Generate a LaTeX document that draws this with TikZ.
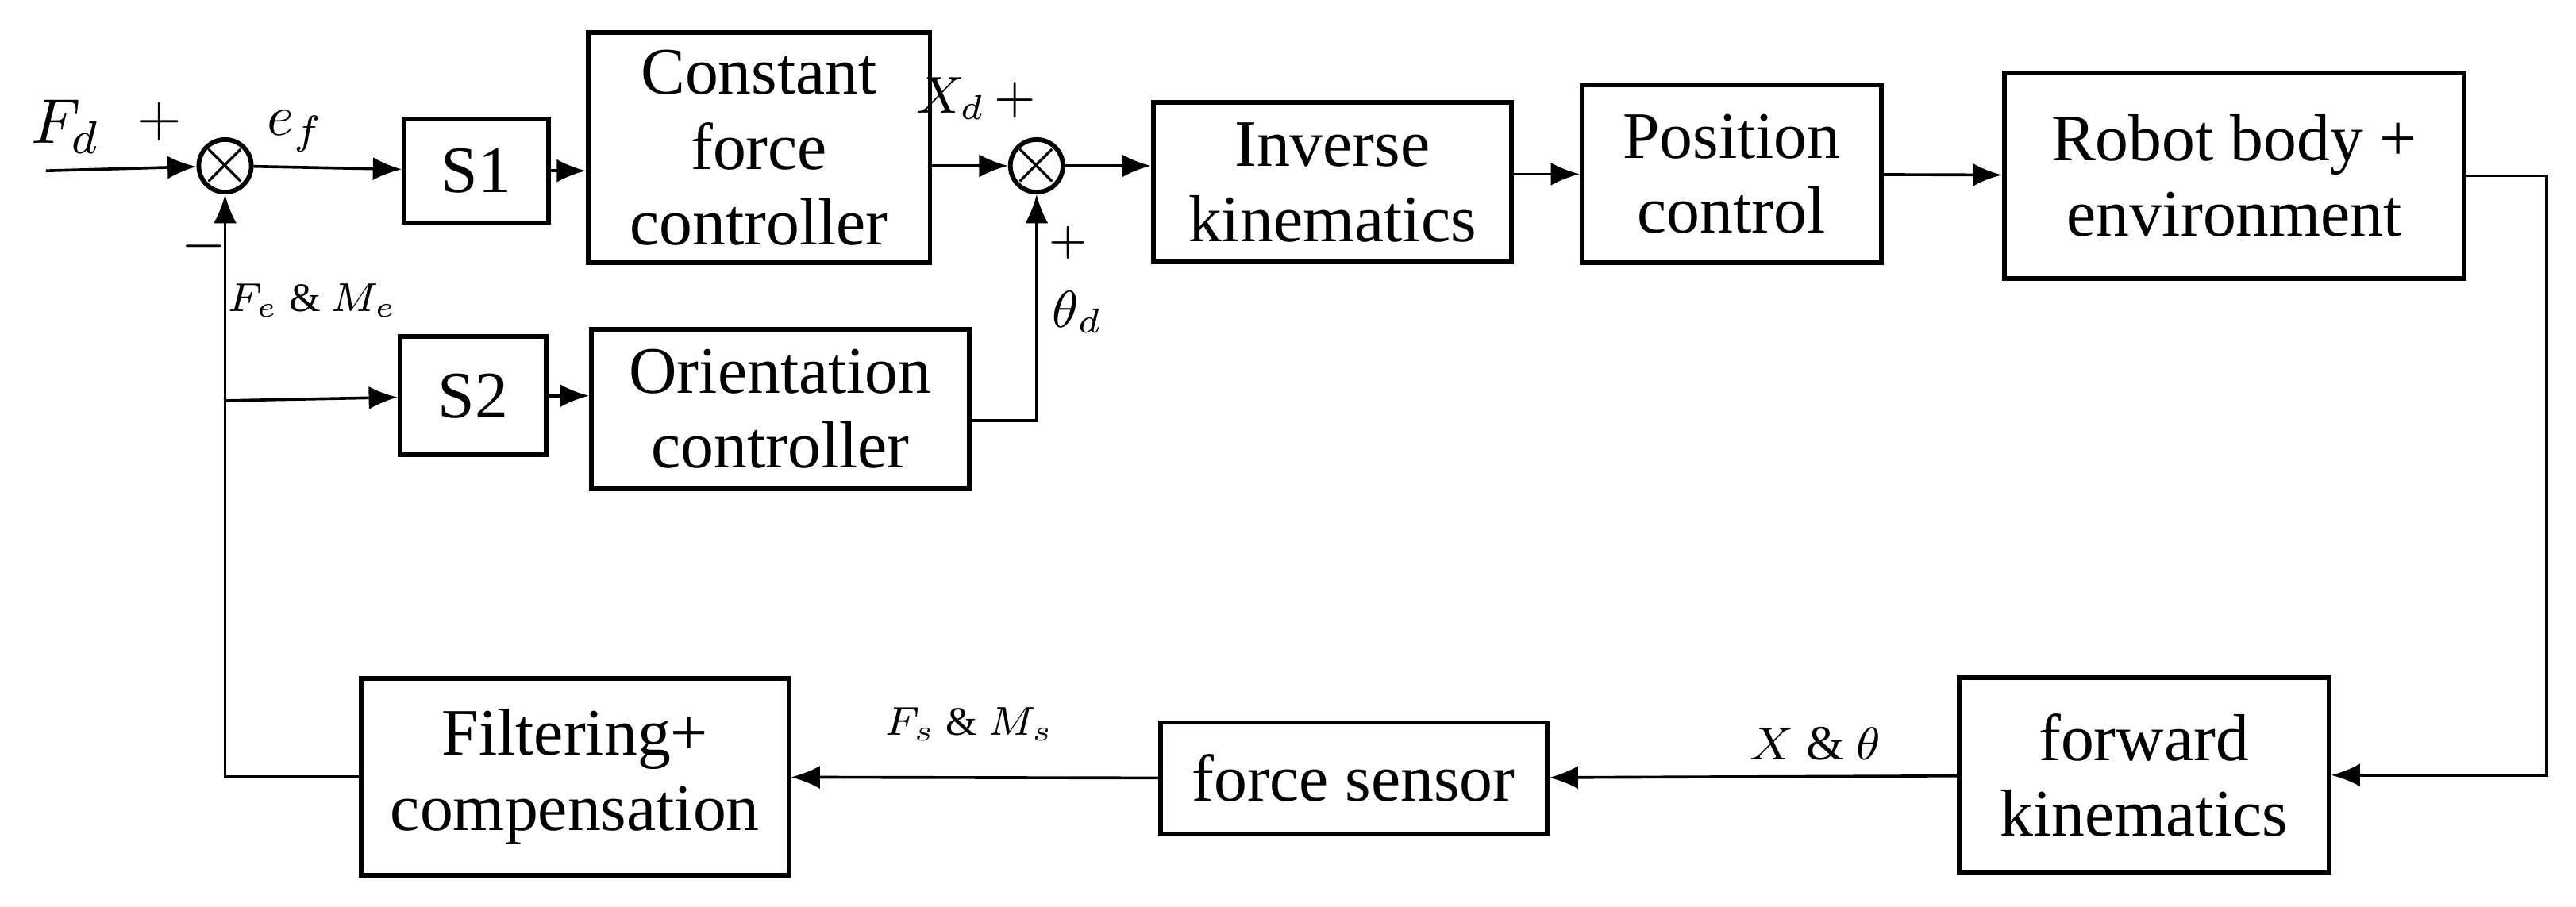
\documentclass[tikz,border=0pt]{standalone}
\usepackage{fontspec}
\setmainfont{Liberation Serif}
\usetikzlibrary{arrows.meta,positioning,calc}
\tikzset{
  block/.style={draw, line width=0.8pt, align=center, font=\fontsize{11.5}{13}\selectfont, inner sep=0pt},
  sumnode/.style={draw, circle, line width=0.8pt, minimum size=0.32cm, inner sep=0pt},
  sig/.style={font=\fontsize{7}{9}\selectfont},
  link/.style={line width=0.5pt, -{Latex[length=5pt,width=4pt]}}
}
\begin{document}
\begin{tikzpicture}[x=0.01cm,y=-0.01cm]
\useasboundingbox (0,0) rectangle (1568,552);
% Forward path
\coordinate (in) at (28,104);
\node[sumnode] (sum1) at (137,101) {};
\node at (sum1) {\fontsize{12}{12}\selectfont$\times$};
\node[block, minimum width=0.88cm, minimum height=0.63cm] (s1) at (290,104) {S1};
\node[block, minimum width=2.08cm, minimum height=1.4cm] (cfc) at (462,90) {Constant\\force\\controller};
\node[sumnode] (sum2) at (631,101) {};
\node at (sum2) {\fontsize{12}{12}\selectfont$\times$};
\node[block, minimum width=2.18cm, minimum height=0.97cm] (ik) at (811,111) {Inverse\\kinematics};
\node[block, minimum width=1.82cm, minimum height=1.08cm] (pc) at (1054,106) {Position\\control};
\node[block, minimum width=2.8cm, minimum height=1.25cm] (robot) at (1360,107) {Robot body +\\environment};

% Orientation branch
\node[block, minimum width=0.89cm, minimum height=0.72cm] (s2) at (288,241) {S2};
\node[block, minimum width=2.3cm, minimum height=0.97cm] (oc) at (475,249) {Orientation\\controller};

% Feedback path
\node[block, minimum width=2.25cm, minimum height=1.19cm] (fk) at (1305,472) {forward\\kinematics};
\node[block, minimum width=2.35cm, minimum height=0.68cm] (fs) at (824,474) {force sensor};
\node[block, minimum width=2.6cm, minimum height=1.2cm] (filt) at (350,473) {Filtering+\\compensation};
\coordinate (br) at (137,244);
\coordinate (rout) at (1550,107);

% Connections
\draw[link] (in) -- (sum1);
\draw[link] (sum1) -- (s1);
\draw[link] (s1) -- (s1 -| cfc.west);
\draw[link] (cfc.east |- sum2) -- (sum2);
\draw[link] (sum2) -- (sum2 -| ik.west);
\draw[link] (ik.east |- pc) -- (pc);
\draw[link] (pc) -- (robot);
\draw[link] (robot.east) -- (rout) |- (fk.east);
\draw[link] (fk) -- (fs);
\draw[link] (fs) -- (filt);
\draw[link] (filt.west) -| (sum1.south);
\draw[link] (br) -- (s2);
\draw[link] (s2) -- (s2 -| oc.west);
\draw[link] (oc.east |- 0,256) -| (sum2.south);

% Labels
\node[font=\fontsize{11}{12}\selectfont] (lfd) at (40,77) {$F_d$};
\node[font=\fontsize{10}{12}\selectfont] (lp1) at (97,74) {$+$};
\node[font=\fontsize{10}{12}\selectfont] (lef) at (180,80) {$e_f$};
\node[font=\fontsize{10}{12}\selectfont] (lm1) at (124,150) {$-$};
\node[sig] (lfe) at (190,183) {$F_e$ \& $M_e$};
\node[font=\fontsize{9}{11}\selectfont, inner sep=1pt] (lxd) at (594,60) {$X_d$\,$+$};
\node[font=\fontsize{8}{10}\selectfont] (lp2) at (650,148) {$+$};
\node[font=\fontsize{9}{11}\selectfont] (lth) at (656,190) {$\theta_d$};
\node[sig] (lfs) at (590,441) {$F_s$ \& $M_s$};
\node[font=\fontsize{8.5}{10}\selectfont] (lxt) at (1105,453) {$X$ \& $\theta$};
\end{tikzpicture}
\end{document}
